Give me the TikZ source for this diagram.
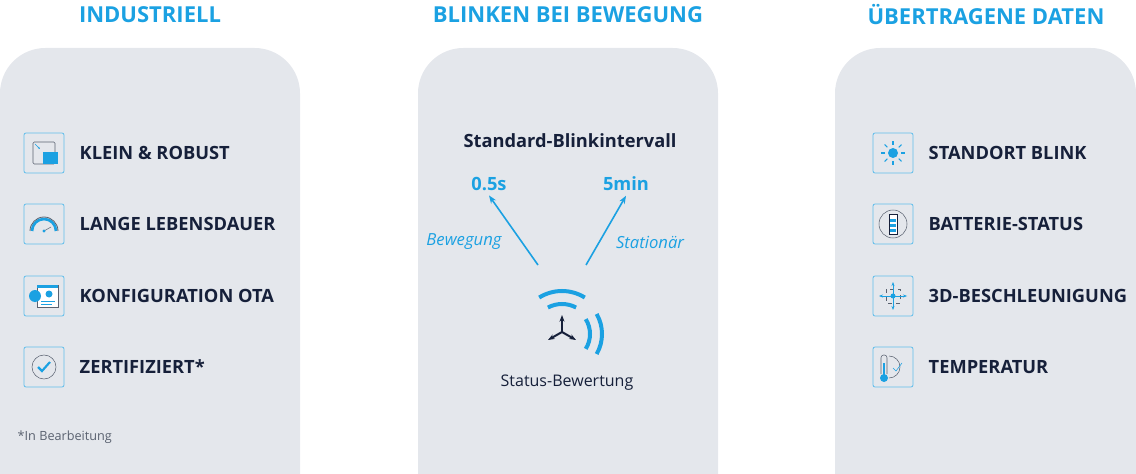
\documentclass[tikz,border=0pt]{standalone}
\usepackage{fontspec}
\setmainfont{Open Sans}
\usetikzlibrary{positioning}
\usetikzlibrary{arrows.meta}
\definecolor{panel}{HTML}{E4E7EC}
\definecolor{accent}{HTML}{1BA1E2}
\definecolor{navy}{HTML}{16203A}
\definecolor{iconline}{HTML}{5A6270}
\tikzset{
  title/.style={text=accent, font=\bfseries\fontsize{16.5}{20}\selectfont},
  item/.style={text=navy, font=\bfseries\fontsize{13.7}{16}\selectfont, anchor=west},
  value/.style={text=accent, font=\bfseries\fontsize{13.7}{16}\selectfont},
  note/.style={text=accent, font=\itshape\fontsize{12.5}{15}\selectfont},
  iconbox/.style={draw=accent!70, line width=0.6pt, rounded corners=1.5pt, minimum size=30pt, inner sep=0pt},
  card/.style={fill=panel, rounded corners=34pt},
}
\begin{document}
\begin{tikzpicture}[x=0.75pt, y=-0.75pt]
\useasboundingbox (0,0) rectangle (1136,474);
\begin{scope}
\clip (0,0) rectangle (1136,474);
\fill[card] (0,48) rectangle (300,520);
\fill[card] (418,48) rectangle (718,520);
\fill[card] (835,48) rectangle (1136,520);
\end{scope}

\node[title] (T1) at (150,15) {INDUSTRIELL};
\node[title] (T2) at (568,15) {BLINKEN BEI BEWEGUNG};
\node[title] (T3) at (986,15) {ÜBERTRAGENE DATEN};

% left column
\node[iconbox] (I1) at (44,153) {};
\node[iconbox] (I2) at (44,224) {};
\node[iconbox] (I3) at (44,296) {};
\node[iconbox] (I4) at (44,367) {};
\node[item] (L1) at (75,153) {KLEIN \& ROBUST};
\node[item] (L2) at (75,224) {LANGE LEBENSDAUER};
\node[item] (L3) at (75,296) {KONFIGURATION OTA};
\node[item] (L4) at (75,367) {ZERTIFIZIERT*};
\node[text=iconline, font=\fontsize{9.5}{11}\selectfont, anchor=west] (N) at (13,437) {*In Bearbeitung};

% small icons
\draw[iconline, rounded corners=1pt] (33,142) rectangle (55,164);
\fill[accent] (43,152) rectangle (58,164);
\draw[accent, -{Stealth[length=2pt]}] (35,144) -- (40,149);
\draw[accent, line width=2pt] (32,231) arc (-180:0:12);
\draw[iconline, line width=0.6pt] (30,231) arc (-180:0:14);
\draw[iconline] (44,231) -- (51,227);
\fill[accent] (44,231) circle (1.6);
\draw[iconline, fill=white] (37,285) rectangle (58,307);
\fill[accent] (37,285) rectangle (58,288);
\fill[accent] (35,296) circle (6);
\fill[accent] (49,294) circle (3.5);
\draw[accent] (41,301) -- (55,301) (41,304) -- (52,304);
\draw[iconline] (44,367) circle (12);
\draw[accent, line width=1.6pt] (38,367) -- (42,371) -- (50,362);

% middle column
\node[text=navy, font=\bfseries\fontsize{13.7}{16}\selectfont] (S) at (570,141) {Standard-Blinkintervall};
\node[value] (V1) at (489,184) {0.5s};
\node[value] (V2) at (626,184) {5min};
\coordinate (A1) at (538,265);
\coordinate (A2) at (586,265);
\draw[accent, line width=1.2pt, -{Stealth[length=6pt]}] (A1) -- (V1.south);
\draw[accent, line width=1.2pt, -{Stealth[length=6pt]}] (A2) -- (V2.south);
\node[note] (B) at (464,242) {Bewegung};
\node[note] (St) at (650,242) {Stationär};
\coordinate (C) at (562,334);
\draw[accent, line width=3pt] (C) ++(-118:30) arc (-118:-62:30);
\draw[accent, line width=3pt] (C) ++(-122:43) arc (-122:-58:43);
\draw[accent, line width=3pt] (C) ++(-32:28) arc (-32:32:28);
\draw[accent, line width=3pt] (C) ++(-30:40) arc (-30:30:40);
\draw[navy, line width=1.5pt, -{Stealth[length=5pt]}] (562,332) -- (562,315);
\draw[navy, line width=1.5pt, -{Stealth[length=5pt]}] (562,332) -- (548,340);
\draw[navy, line width=1.5pt, -{Stealth[length=5pt]}] (562,332) -- (576,340);
\node[text=navy, font=\fontsize{12}{14}\selectfont] (SB) at (567,383) {Status-Bewertung};

% right column
\node[iconbox] (R1) at (893,153) {};
\node[iconbox] (R2) at (893,224) {};
\node[iconbox] (R3) at (893,296) {};
\node[iconbox] (R4) at (893,367) {};
\node[item] (M1) at (924,153) {STANDORT BLINK};
\node[item] (M2) at (924,224) {BATTERIE-STATUS};
\node[item] (M3) at (924,296) {3D-BESCHLEUNIGUNG};
\node[item] (M4) at (924,367) {TEMPERATUR};

\fill[accent] (893,153) circle (5);
\foreach \a in {0,45,...,315}
  \draw[accent, line width=0.8pt] (893,153) ++(\a:8) -- ++(\a:4);
\draw[iconline] (893,224) circle (14);
\draw[navy, fill=white] (889,214) rectangle (897,234);
\foreach \yy in {219,224,229}
  \fill[accent] (890,\yy) rectangle (896,\yy+3);
\fill[accent] (893,296) circle (2.5);
\draw[iconline, dashed] (886,289) rectangle (900,303);
\draw[accent, {Stealth[length=3pt]}-{Stealth[length=3pt]}] (879,296) -- (907,296);
\draw[accent, {Stealth[length=3pt]}-{Stealth[length=3pt]}] (893,282) -- (893,310);
\draw[iconline] (889,356) arc (-90:90:11) -- (889,378);
\draw[iconline, rounded corners=2pt] (881,374) -- (881,355) -- (887,355) -- (887,374);
\fill[accent] (884,378) circle (4);
\fill[accent] (883,363) rectangle (885,376);
\draw[accent] (893,368) -- (896,371) -- (902,363);
\end{tikzpicture}
\end{document}
